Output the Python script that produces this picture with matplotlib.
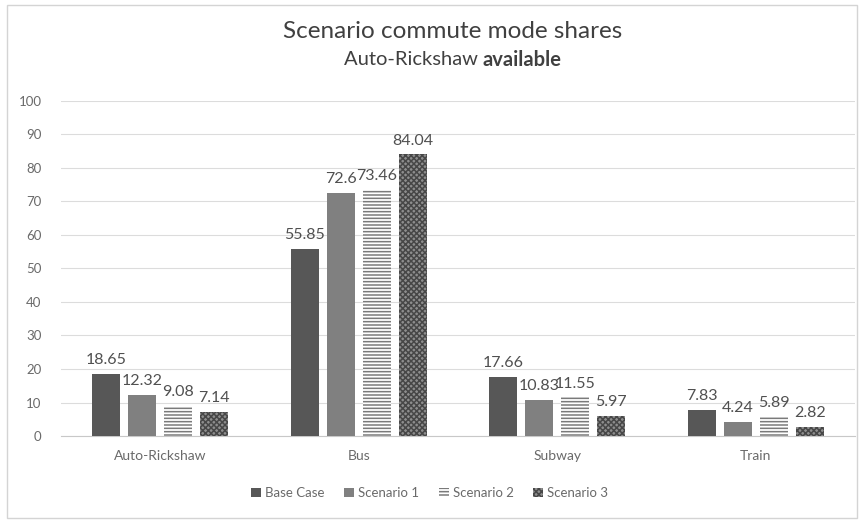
import numpy as np
import matplotlib.pyplot as plt
from matplotlib.patches import Rectangle

plt.rcParams['font.family'] = ['Lato', 'DejaVu Sans']
plt.rcParams['hatch.linewidth'] = 1.1

# commute mode shares (%) per scenario
modes = ['Auto-Rickshaw', 'Bus', 'Subway', 'Train']
series = ['Base Case', 'Scenario 1', 'Scenario 2', 'Scenario 3']
base_case = [18.65, 55.85, 17.66, 7.83]
scenario_1 = [12.32, 72.6, 10.83, 4.24]
scenario_2 = [9.08, 73.46, 11.55, 5.89]
scenario_3 = [7.14, 84.04, 5.97, 2.82]
yticks = list(range(0, 101, 10))

values = [base_case, scenario_1, scenario_2, scenario_3]
styles = [
    dict(facecolor='#575757', edgecolor='#575757', hatch=None),
    dict(facecolor='#808080', edgecolor='#808080', hatch=None),
    dict(facecolor='white', edgecolor='#7a7a7a', hatch='-----'),
    dict(facecolor='#8e8e8e', edgecolor='#474747', hatch='xxxxxx'),
]

fig = plt.figure(figsize=(8.68, 5.2), dpi=100)
ax = fig.add_axes([0.0703, 0.1615, 0.9147, 0.6445])

x = np.arange(len(modes))
width = 0.141
pitch = 0.181
for i, (name, vals, st) in enumerate(zip(series, values, styles)):
    pos = x + (i - 1.5) * pitch
    bars = ax.bar(pos, vals, width, label=name, linewidth=0, zorder=3, **st)
    for b, v in zip(bars, vals):
        ax.text(b.get_x() + b.get_width() / 2, v + 2.0, f'{v:g}',
                ha='center', va='bottom', fontsize=11.5, color='#505050')

ax.set_xlim(-0.5, len(modes) - 0.5)
ax.set_ylim(0, 100)
ax.set_yticks(yticks)
ax.set_xticks(x)
ax.set_xticklabels(modes)
ax.tick_params(axis='both', length=0, labelsize=9.5, colors='#6a6a6a')
ax.tick_params(axis='x', pad=10, labelsize=10)
ax.tick_params(axis='y', pad=14)
ax.grid(axis='y', color='#dcdcdc', linewidth=0.8, zorder=0)
for side in ['top', 'right', 'left']:
    ax.spines[side].set_visible(False)
ax.spines['bottom'].set_color('#c8c8c8')

fig.text(0.521, 0.94, 'Scenario commute mode shares', ha='center', va='center',
         fontsize=17.5, color='#404040')
fig.text(0.556, 0.885, 'Auto-Rickshaw ', ha='right', va='center',
         fontsize=14.5, color='#404040')
fig.text(0.556, 0.885, 'available', ha='left', va='center',
         fontsize=14.5, color='#404040', fontweight='bold')

leg = fig.legend(loc='center', bbox_to_anchor=(0.495, 0.052), ncol=4,
                 frameon=False, fontsize=9.5, handlelength=0.75, handleheight=0.75,
                 handletextpad=0.3, columnspacing=1.5)
for t in leg.get_texts():
    t.set_color('#6a6a6a')

fig.patches.append(Rectangle((7 / 868, 2 / 520), 850 / 868, 513 / 520,
                             transform=fig.transFigure, fill=False,
                             edgecolor='#d4d4d4', linewidth=1))

fig.savefig('out.png', dpi=100, facecolor='white')
